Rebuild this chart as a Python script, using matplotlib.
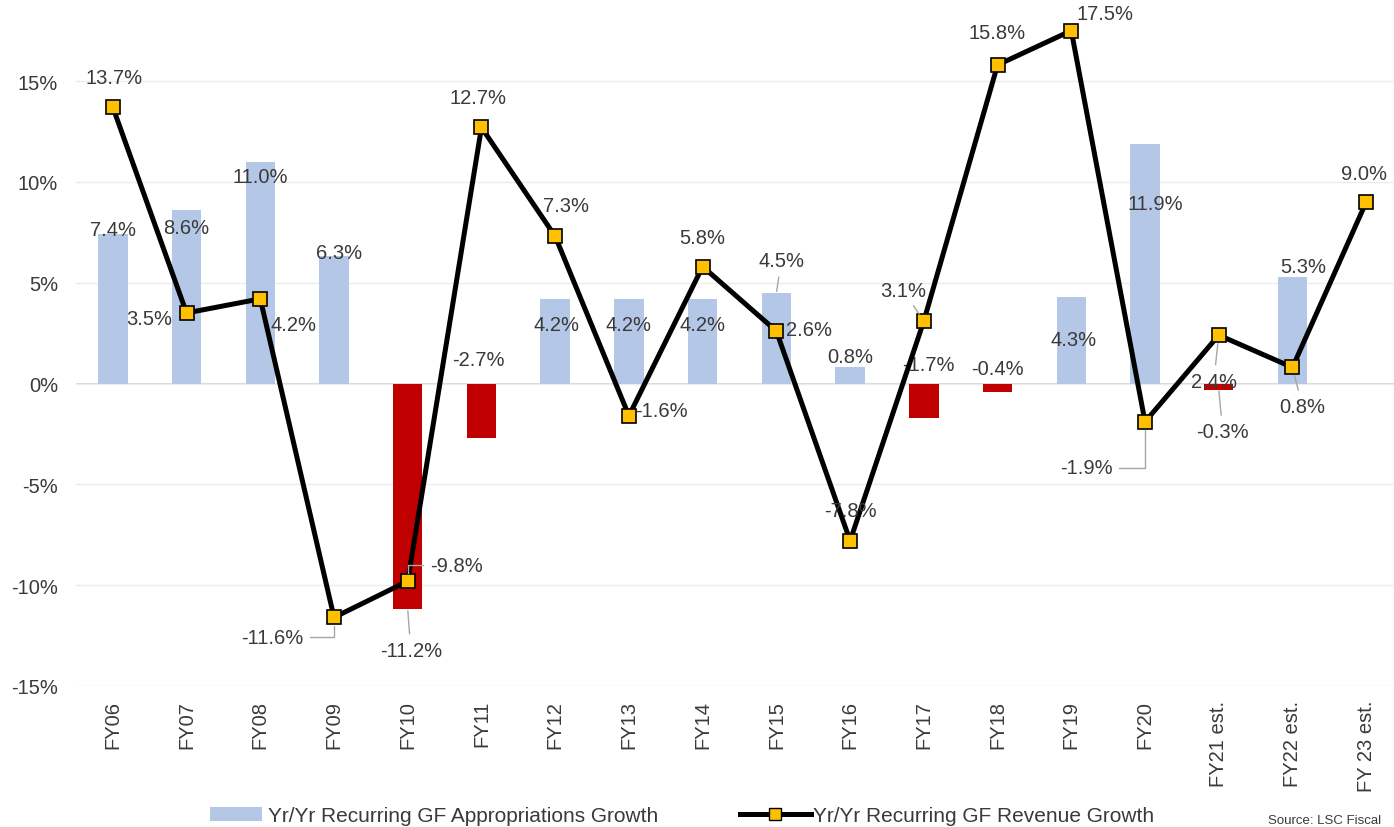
import matplotlib
matplotlib.use("Agg")
import matplotlib.pyplot as plt
from matplotlib.patches import Patch
from matplotlib.lines import Line2D

categories = ["FY06", "FY07", "FY08", "FY09", "FY10", "FY11", "FY12", "FY13", "FY14",
              "FY15", "FY16", "FY17", "FY18", "FY19", "FY20", "FY21 est.", "FY22 est.", "FY 23 est."]
approp_growth = [7.4, 8.6, 11.0, 6.3, -11.2, -2.7, 4.2, 4.2, 4.2, 4.5, 0.8, -1.7, -0.4, 4.3, 11.9, -0.3, 5.3, None]
revenue_growth = [13.7, 3.5, 4.2, -11.6, -9.8, 12.7, 7.3, -1.6, 5.8, 2.6, -7.8, 3.1, 15.8, 17.5, -1.9, 2.4, 0.8, 9.0]
y_ticks = [-15, -10, -5, 0, 5, 10, 15]

# label offsets in pixels (dx, dy) and leader style (None / "s" straight / "e" elbow)
line_offsets = [(1, 30, None), (-37, -6, None), (33, -26, None), (-62, -20, "e"),
                (49, 16, "e"), (-3, 30, None), (11, 31, None), (33, 5, None),
                (0, 29, None), (33, 2, None), (0, 30, None), (-21, 31, "s"),
                (0, 32, None), (34, 17, None), (-59, -46, "e"), (-5, -46, "s"),
                (10, -39, "s"), (-2, 29, None)]
bar_offsets = [(0, 5, None), (0, -17, None), (0, -15, None), (5, 4, None),
               (3, -41, "s"), (-3, 78, None), (1, -26, None), (0, -26, None),
               (0, -26, None), (5, 32, "s"), (0, 11, None), (5, 53, None),
               (0, 23, None), (2, -43, None), (10, -60, None), (4, -42, "s"),
               (11, 10, None), None]

plt.rcParams['font.family'] = ['Liberation Sans', 'DejaVu Sans']
TXT = "#3a3a3a"
FS = 14.5
LEAD = "#a6a6a6"

fig = plt.figure(figsize=(13.94, 8.28), dpi=100)
ax = fig.add_axes([0.0545, 0.1703, 0.952, 0.8297])

x = list(range(len(categories)))
bx = [i for i, v in zip(x, approp_growth) if v is not None]
bv = [v for v in approp_growth if v is not None]
colors = ["#b4c7e7" if v >= 0 else "#c00000" for v in bv]
ax.bar(bx, bv, width=0.40, color=colors, zorder=2)

ax.plot(x, revenue_growth, color="black", lw=3.6, marker="s", markersize=9.5,
        markerfacecolor="#ffc000", markeredgecolor="black", markeredgewidth=1.2, zorder=4)

ax.set_xlim(-0.5, len(categories) - 0.5)
ax.set_ylim(-15, 19.07)
ax.set_yticks(y_ticks)
ax.set_yticklabels([f"{t}%" for t in y_ticks], fontsize=FS, color=TXT)
ax.set_xticks(x)
ax.set_xticklabels(categories, rotation=90, fontsize=FS, color=TXT, va="top", ha="center")
ax.tick_params(axis="both", length=0)
ax.tick_params(axis="x", pad=10)
ax.tick_params(axis="y", pad=13)
for s in ax.spines.values():
    s.set_visible(False)
ax.grid(axis="y", color="#ececec", lw=1, zorder=0)
ax.axhline(0, color="#d0d0d0", lw=1.2, zorder=1)


def leader(style, shrinkB):
    if style is None:
        return None
    cs = "angle,angleA=0,angleB=90,rad=0" if style == "e" else "arc3"
    return dict(arrowstyle="-", color=LEAD, lw=1, shrinkA=3, shrinkB=shrinkB,
                connectionstyle=cs)


for i, v in enumerate(revenue_growth):
    dx, dy, st = line_offsets[i]
    ax.annotate(f"{v:.1f}%", (i, v), xytext=(dx, dy), textcoords="offset pixels",
                ha="center", va="center", fontsize=FS, color=TXT, zorder=5,
                arrowprops=leader(st, 6))

for i, v in enumerate(approp_growth):
    if v is None:
        continue
    dx, dy, st = bar_offsets[i]
    ax.annotate(f"{v:.1f}%", (i, v), xytext=(dx, dy), textcoords="offset pixels",
                ha="center", va="center", fontsize=FS, color=TXT, zorder=3,
                arrowprops=leader(st, 1))

h1 = [Patch(facecolor="#b4c7e7", edgecolor="none")]
h2 = [Line2D([0], [0], color="black", lw=3.6, marker="s", markersize=9,
             markerfacecolor="#ffc000", markeredgecolor="black")]
leg1 = fig.legend(h1, ["Yr/Yr Recurring GF Appropriations Growth"], loc="center left",
                  bbox_to_anchor=(210 / 1394, 0.0133), frameon=False, fontsize=15,
                  handlelength=2.5, handleheight=0.7, handletextpad=0.3,
                  borderpad=0, borderaxespad=0, labelcolor=TXT)
leg2 = fig.legend(h2, ["Yr/Yr Recurring GF Revenue Growth"], loc="center left",
                  bbox_to_anchor=(740 / 1394, 0.0133), frameon=False, fontsize=15,
                  handlelength=3.4, handletextpad=0.1,
                  borderpad=0, borderaxespad=0, labelcolor=TXT)

fig.text(1268 / 1394, 0.008, "Source: LSC Fiscal", fontsize=9.5, color=TXT,
         ha="left", va="center")

fig.savefig("out.png", dpi=100)
